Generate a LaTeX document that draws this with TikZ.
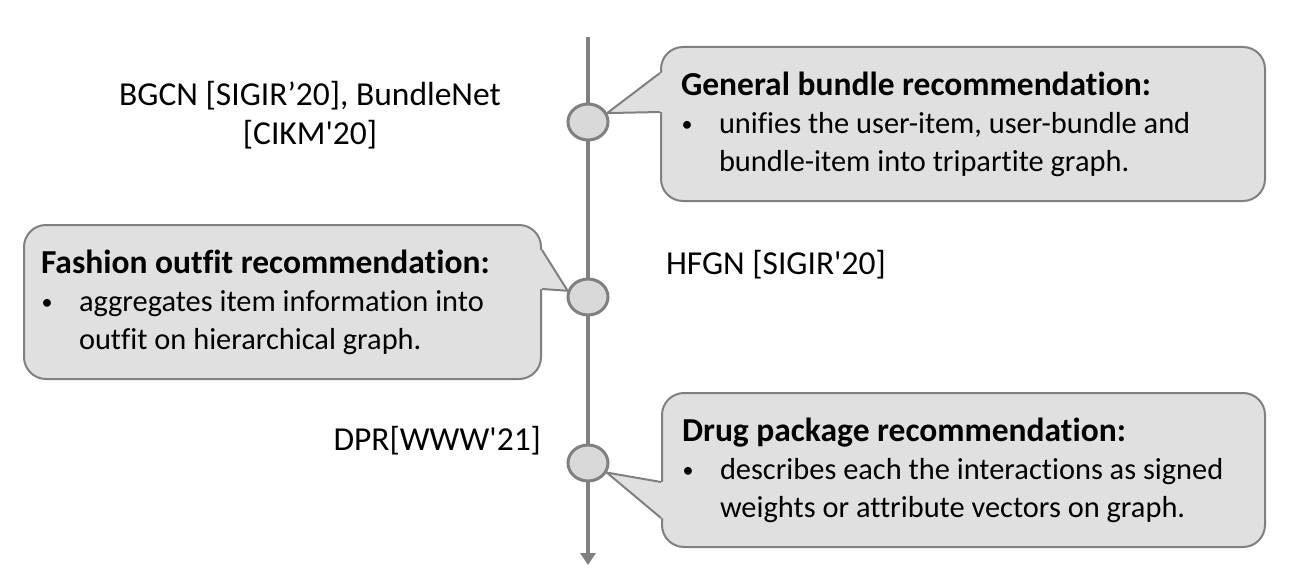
\documentclass[tikz,border=0pt]{standalone}
\usepackage{fontspec}
\setmainfont{Carlito}[Ligatures=NoCommon]
\usetikzlibrary{arrows.meta,shapes.geometric}

\definecolor{boxgray}{RGB}{224,224,224}
\definecolor{dotgray}{RGB}{217,217,217}
\definecolor{linegray}{RGB}{128,128,128}

\newcommand{\bul}{\makebox[19pt][l]{\hspace*{0.3pt}\raisebox{1pt}{\fontsize{11}{11}\selectfont\textbullet}}}
\newcommand{\hang}{\hspace*{19pt}}
\newcommand{\headline}[1]{\mbox{\fontsize{16.75}{19}\selectfont\bfseries #1}}

\begin{document}
\begin{tikzpicture}[x=0.5pt,y=-0.5pt,
  every node/.style={font=\fontsize{16.75}{19.25}\selectfont},
  callbox/.style={draw=linegray,fill=boxgray,line width=1pt,rounded corners=11pt,
    anchor=north west,align=flush left,inner xsep=10pt,inner ysep=0pt,minimum height=77pt,
    font=\fontsize{15.2}{19}\selectfont},
  pointer/.style={fill=boxgray,draw=none},
  pointerline/.style={draw=linegray,line width=1pt,line join=round},
  dot/.style={ellipse,draw=linegray,fill=dotgray,line width=1.5pt,
    minimum width=20pt,minimum height=18pt,inner sep=0pt}]

  \useasboundingbox (0,0) rectangle (1291,583);

  % timeline
  \draw[line width=2pt,linegray,-{Triangle[width=7.5pt,length=6pt]}] (588,37)--(588,565);

  \node[dot] (d1) at (588,122) {};
  \node[dot] (d2) at (588,297) {};
  \node[dot] (d3) at (588,463) {};

  % labels
  \node[align=center] (bgcn) at (310,115) {BGCN [SIGIR’20], BundleNet\\{}[CIKM\textquotesingle 20]};
  \node[anchor=west] (hfgn) at (659,265) {HFGN [SIGIR\textquotesingle 20]};
  \node[anchor=east] (dpr) at (548,441) {DPR[WWW\textquotesingle 21]};

  % callouts
  \node[callbox,text width=282pt] (gen) at (660,46) {\headline{General bundle recommendation:}\\
    \mbox{\bul unifies the user-item, user-bundle and}\\
    \mbox{\hang bundle-item into tripartite graph.}};
  \node[callbox,text width=241.5pt,inner xsep=8.5pt] (fash) at (23,224) {\headline{Fashion outfit recommendation:}\\
    \mbox{\bul aggregates item information into}\\
    \mbox{\hang outfit on hierarchical graph.}};
  \node[callbox,text width=281.5pt] (drug) at (661,392) {\headline{Drug package recommendation:}\\
    \mbox{\bul describes each the interactions as signed}\\
    \mbox{\hang weights or attribute vectors on graph.}};

  \fill[pointer] (660,73)--(d1.25)--(660,112)--(666,112)--(666,73)--cycle;
  \draw[pointerline] (660,73)--(d1.25)--(660,112);

  \fill[pointer] (542,250)--(d2.163)--(542,289)--(536,289)--(536,250)--cycle;
  \draw[pointerline] (542,250)--(d2.163)--(542,289);

  \fill[pointer] (661,482)--(d3.333)--(661,518)--(667,518)--(667,482)--cycle;
  \draw[pointerline] (661,482)--(d3.333)--(661,518);
\end{tikzpicture}
\end{document}
